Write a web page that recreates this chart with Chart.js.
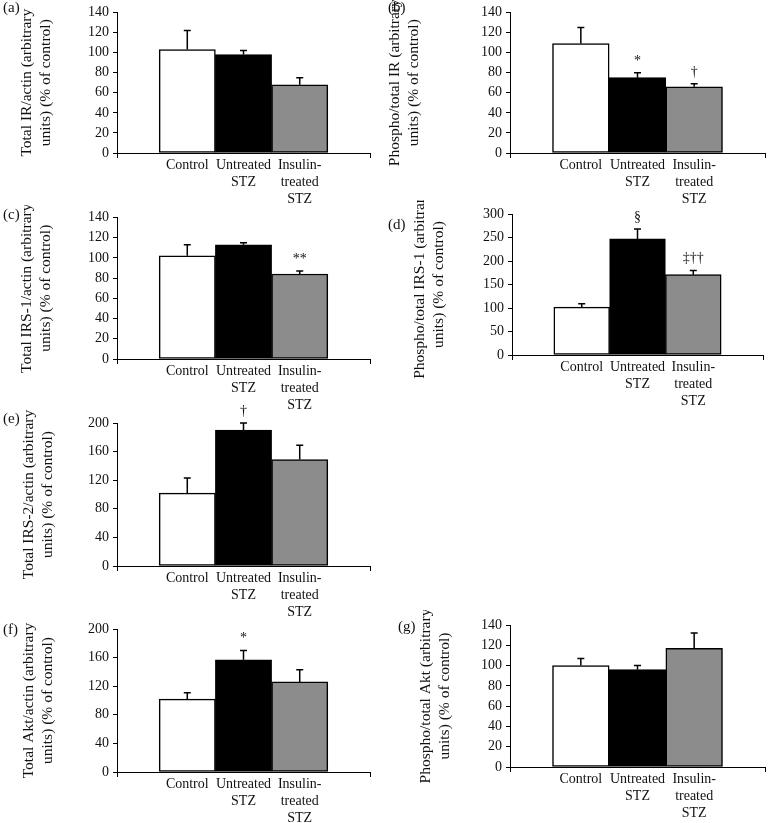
<!DOCTYPE html>
<html>
<head>
<meta charset="utf-8">
<script src="https://cdn.jsdelivr.net/npm/chart.js@4.4.1/dist/chart.umd.min.js"></script>
<style>
  body { margin: 0; background: #fff; width: 770px; height: 823px; position: relative; overflow: hidden; font-family: 'Liberation Serif', serif; }
  .panel { position: absolute; }
  .tag { position: absolute; font-size: 15px; color: #111; }
</style>
</head>
<body>
<script>
// groups, one bar each
const groups = ['Control', ['Untreated', 'STZ'], ['Insulin-', 'treated', 'STZ']]
const barX = [1, 2, 3]
const barColors = ['#ffffff', '#000000', '#8c8c8c']

// (a) total IR / actin
const totalIR = [103, 98, 68]
const totalIRErr = [19, 4, 7]
const totalIRMarks = ['', '', '']
// (b) phospho / total IR
const phosphoIR = [109, 75, 66]
const phosphoIRErr = [16, 5, 3]
const phosphoIRMarks = ['', '*', '†']
// (c) total IRS-1 / actin
const totalIRS1 = [102, 113, 84]
const totalIRS1Err = [11, 2, 3]
const totalIRS1Marks = ['', '', '**']
// (d) phospho / total IRS-1
const phosphoIRS1 = [102, 247, 171]
const phosphoIRS1Err = [7, 21, 9]
const phosphoIRS1Marks = ['', '§', '‡††']
// (e) total IRS-2 / actin
const totalIRS2 = [102, 190, 149]
const totalIRS2Err = [21, 10, 20]
const totalIRS2Marks = ['', '†', '']
// (f) total Akt / actin
const totalAkt = [102, 157, 126]
const totalAktErr = [9, 13, 17]
const totalAktMarks = ['', '*', '']
// (g) phospho / total Akt
const phosphoAkt = [100, 96, 117]
const phosphoAktErr = [7, 4, 15]
const phosphoAktMarks = ['', '', '']

const panels = [
  { tag: '(a)', values: totalIR, errors: totalIRErr, marks: totalIRMarks, max: 140, step: 20,
    title: ['Total IR/actin (arbitrary', 'units) (% of control)'] },
  { tag: '(b)', values: phosphoIR, errors: phosphoIRErr, marks: phosphoIRMarks, max: 140, step: 20,
    title: ['Phospho/total IR (arbitrary', 'units) (% of control)'] },
  { tag: '(c)', values: totalIRS1, errors: totalIRS1Err, marks: totalIRS1Marks, max: 140, step: 20,
    title: ['Total IRS-1/actin (arbitrary', 'units) (% of control)'] },
  { tag: '(d)', values: phosphoIRS1, errors: phosphoIRS1Err, marks: phosphoIRS1Marks, max: 300, step: 50,
    title: ['Phospho/total IRS-1 (arbitrary', 'units) (% of control)'] },
  { tag: '(e)', values: totalIRS2, errors: totalIRS2Err, marks: totalIRS2Marks, max: 200, step: 40,
    title: ['Total IRS-2/actin (arbitrary', 'units) (% of control)'] },
  { tag: '(f)', values: totalAkt, errors: totalAktErr, marks: totalAktMarks, max: 200, step: 40,
    title: ['Total Akt/actin (arbitrary', 'units) (% of control)'] },
  { tag: '(g)', values: phosphoAkt, errors: phosphoAktErr, marks: phosphoAktMarks, max: 140, step: 20,
    title: ['Phospho/total Akt (arbitrary', 'units) (% of control)'] },
]

// where each panel sits on the page: box = [x, y, w, h], area = [left, top, right, bottom]
const placement = [
  { box: [0, 0, 385, 205], area: [117, 11, 370, 153], gap: 17, tagAt: [3, -1] },
  { box: [385, 0, 385, 205], area: [510, 9, 765, 153], gap: 0, tagAt: [388, -1] },
  { box: [0, 205, 385, 205], area: [117, 216, 370, 359], gap: 17, tagAt: [3, 206] },
  { box: [385, 200, 385, 225], area: [512, 214, 763, 355], gap: 25, tagAt: [388, 216] },
  { box: [0, 400, 385, 222], area: [117, 423, 370, 566], gap: 19, tagAt: [3, 410] },
  { box: [0, 615, 385, 208], area: [117, 629, 370, 772], gap: 19, tagAt: [3, 621] },
  { box: [385, 610, 385, 213], area: [510, 625, 765, 767], gap: 31, tagAt: [398, 618] },
]

const serif = { family: "'Liberation Serif', serif", size: 14 }
const ink = '#111'

const errorBars = {
  id: 'errorBars',
  afterDatasetsDraw(chart, args, opts) {
    const { ctx } = chart
    const y = chart.scales.y
    const meta = chart.getDatasetMeta(0)
    ctx.save()
    ctx.strokeStyle = '#000'
    ctx.lineWidth = 1.5
    meta.data.forEach((bar, i) => {
      const top = y.getPixelForValue(opts.values[i] + opts.errors[i])
      ctx.beginPath()
      ctx.moveTo(bar.x, bar.y)
      ctx.lineTo(bar.x, top)
      ctx.moveTo(bar.x - 3.5, top)
      ctx.lineTo(bar.x + 3.5, top)
      ctx.stroke()
      if (opts.marks[i]) {
        ctx.fillStyle = ink
        ctx.font = "14px 'Liberation Serif'"
        ctx.textAlign = 'center'
        ctx.textBaseline = 'alphabetic'
        ctx.fillText(opts.marks[i], bar.x, top - 8)
      }
    })
    ctx.restore()
  }
}

panels.forEach((p, k) => {
  const { box, area, gap, tagAt } = placement[k]
  const [bx, by, bw, bh] = box
  const [al, at, ar, ab] = area

  const div = document.createElement('div')
  div.className = 'panel'
  div.style.left = bx + 'px'
  div.style.top = by + 'px'
  const canvas = document.createElement('canvas')
  canvas.width = bw
  canvas.height = bh
  div.appendChild(canvas)
  document.body.appendChild(div)

  const tag = document.createElement('div')
  tag.className = 'tag'
  tag.style.left = tagAt[0] + 'px'
  tag.style.top = tagAt[1] + 'px'
  tag.textContent = p.tag
  document.body.appendChild(tag)

  const lo = barX[0] - 1.25
  const hi = barX[barX.length - 1] + 1.25

  new Chart(canvas, {
    type: 'bar',
    data: {
      datasets: [{
        data: p.values.map((v, i) => ({ x: barX[i], y: v })),
        backgroundColor: barColors,
        borderColor: '#000',
        borderWidth: 1.5,
        borderSkipped: false,
        barPercentage: 1,
        categoryPercentage: 1
      }]
    },
    options: {
      responsive: false,
      animation: false,
      layout: { padding: { left: 0, top: at - by, right: bx + bw - ar, bottom: 0 } },
      plugins: {
        legend: { display: false },
        tooltip: { enabled: false },
        errorBars: { values: p.values, errors: p.errors, marks: p.marks }
      },
      scales: {
        x: {
          type: 'linear',
          offset: false,
          min: lo,
          max: hi,
          afterBuildTicks: s => { s.ticks = [lo, ...barX, hi].map(v => ({ value: v })) },
          afterFit: s => { s.height = by + bh - ab },
          border: { color: '#000', width: 1 },
          grid: {
            drawOnChartArea: false,
            offset: false,
            tickLength: 5,
            tickWidth: 1,
            tickColor: c => (c.tick && (c.tick.value === lo || c.tick.value === hi)) ? '#000' : 'rgba(0,0,0,0)'
          },
          ticks: {
            autoSkip: false,
            maxRotation: 0,
            padding: -1,
            font: { ...serif, lineHeight: 1.2 },
            color: ink,
            callback: v => {
              const i = barX.indexOf(v)
              return i < 0 ? '' : groups[i]
            }
          }
        },
        y: {
          min: 0,
          max: p.max,
          afterFit: s => { s.width = al - bx },
          border: { color: '#000', width: 1 },
          grid: { drawOnChartArea: false, tickLength: 4, tickColor: '#000' },
          ticks: { stepSize: p.step, padding: 4, font: serif, color: ink },
          title: {
            display: true,
            text: p.title,
            color: ink,
            font: { family: serif.family, size: 15.5, lineHeight: 1.25 },
            padding: { top: gap, bottom: 0 }
          }
        }
      }
    },
    plugins: [errorBars]
  })
})
</script>
</body>
</html>
